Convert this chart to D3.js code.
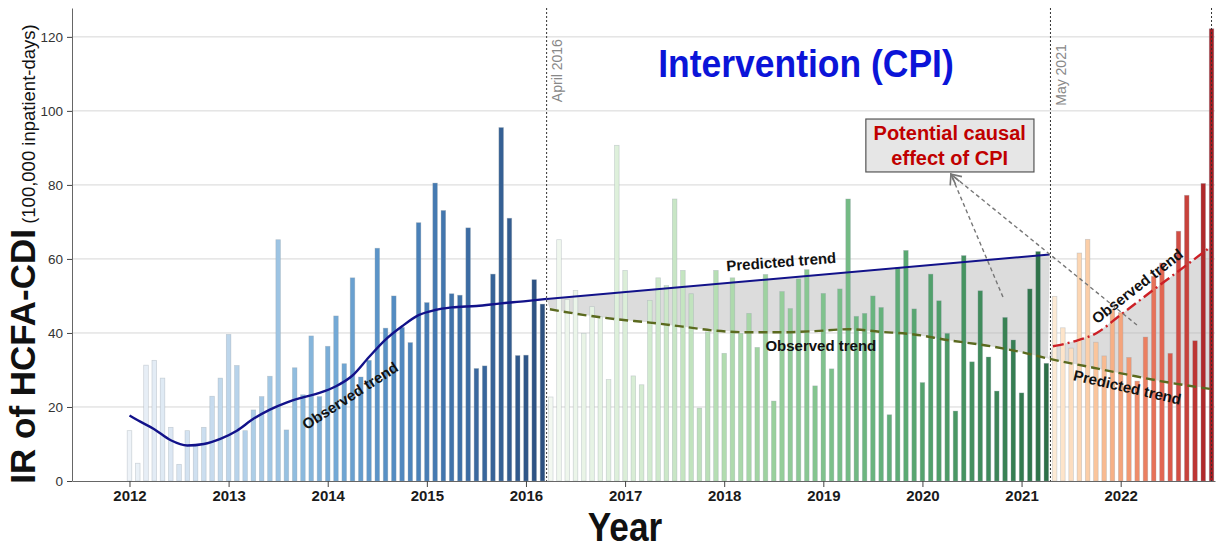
<!DOCTYPE html>
<html>
<head>
<meta charset="utf-8">
<script src="https://cdn.jsdelivr.net/npm/d3@7"></script>
<style>
  body { margin: 0; background: #fff; }
  svg { display: block; font-family: "Liberation Sans", Arial, sans-serif; }
</style>
</head>
<body>
<svg id="chart" width="1217" height="550"></svg>
<script>
// month index: 0 = Jan 2012, 131 = Dec 2022
const yearTicks = [2012, 2013, 2014, 2015, 2016, 2017, 2018, 2019, 2020, 2021, 2022];
const yTicks = [0, 20, 40, 60, 80, 100, 120];

// Jan 2012 - Mar 2016
const preBars = [13.6, 4.8, 31.3, 32.6, 27.8, 14.5, 4.5, 13.6, 9.8, 14.5, 22.9, 27.8,
  39.6, 31.2, 13.6, 19.2, 22.8, 28.3, 65.2, 13.8, 30.6, 23.3, 39.2, 22.8,
  36.4, 44.6, 31.7, 54.9, 28.1, 32.6, 62.9, 41.3, 50.0, 41.5, 37.4, 69.8,
  48.2, 80.5, 73.1, 50.6, 50.2, 68.4, 30.4, 31.1, 55.9, 95.5, 71.0, 33.9,
  34.0, 54.4, 47.8];
// Apr 2016 - Apr 2021 (CPI)
const cpiBars = [22.7, 65.2, 49.0, 51.5, 39.9, 47.1, 44.4, 27.4, 90.7,
  56.9, 28.4, 26.0, 48.8, 54.9, 52.8, 76.2, 56.9, 50.6, 19.7, 40.3, 56.9,
  34.5, 54.9, 39.9, 45.3, 36.1, 55.8, 21.6, 51.2, 46.6, 54.6, 57.1, 25.7,
  50.7, 30.3, 51.9, 76.2, 44.5, 45.3, 50.0, 46.9, 17.9, 57.6, 62.3, 46.5,
  26.6, 55.9, 48.7, 39.9, 18.9, 60.9, 32.2, 51.4, 33.5, 24.3, 44.2, 38.1,
  23.8, 51.9, 62.0, 31.8];
// May 2021 - Dec 2022
const postBars = [49.9, 41.4, 35.9, 61.6, 65.3, 37.5, 33.8, 46.4,
  45.5, 33.4, 27.0, 38.9, 55.3, 58.9, 34.5, 67.5, 77.2, 37.9, 80.4, 122.2];

// trend lines [month index, value]
const preTrend = [[0, 17.7], [1, 16.4], [3, 14.0], [5, 11.0], [7, 9.6], [9, 10.0], [11, 11.4],
  [13, 13.6], [15, 16.8], [17, 19.3], [19, 21.2], [21, 22.6], [23, 23.8], [25, 25.6],
  [27, 28.5], [29, 33.5], [31, 38.2], [33, 41.8], [35, 44.8], [37, 46.2], [39, 46.9],
  [42, 47.3], [45, 48.0], [48, 48.6], [50.5, 49.2]];
const predictedTrend = [[50.5, 49.2], [111.4, 61.2]];
const cpiTrend = [[50.9, 46.4], [54.9, 44.9], [59, 43.7], [63, 42.8], [67, 41.7], [71, 40.6],
  [75, 40.2], [79, 40.2], [83, 40.5], [87, 41.0], [91, 40.3], [95, 39.6], [99, 38.1],
  [104.6, 36.3], [108.6, 34.5], [111.2, 33.1]];
const postPredicted = [[111.2, 33.1], [116.7, 30.6], [120.7, 28.8], [124.8, 27.0], [130.8, 24.9]];
const postTrend = [[111.8, 36.4], [114.5, 37.8], [117.1, 40.0], [120, 44.9], [124, 51.7],
  [128, 58.4], [130.8, 63.1]];

const blueStops = ["#eef3f8", "#cadcee", "#92c0e1", "#5592c9", "#3d6fa8", "#2c5080"];
const greenStops = ["#f3f8f1", "#d5ecd1", "#a7d7a4", "#72bc85", "#4a9c67", "#2c6f47"];
const redStops = ["#fdebd6", "#fcd2aa", "#f6aa7e", "#ec7a5d", "#d54a42", "#a31d23"];

const svg = d3.select("#chart");
const margin = {top: 8, right: 2, bottom: 69, left: 72};
const W = 1217, H = 550;

const x = d3.scaleLinear().domain([-6.96, 131.42]).range([margin.left, W - margin.right]);
const y = d3.scaleLinear().domain([0, 127.8]).range([H - margin.bottom, margin.top]);

// gridlines
svg.append("g")
  .selectAll("line")
  .data(yTicks.filter(d => d > 0))
  .join("line")
  .attr("x1", margin.left).attr("x2", W - margin.right)
  .attr("y1", d => y(d)).attr("y2", d => y(d))
  .attr("stroke", "#d6d6d6").attr("stroke-width", 1);

// gray effect areas
const line = d3.line().x(d => x(d[0])).y(d => y(d[1]));
svg.append("path")
  .attr("d", line(predictedTrend.concat(cpiTrend.slice().reverse())) + "Z")
  .attr("fill", "#b5b5b5").attr("fill-opacity", 0.48);
svg.append("path")
  .attr("d", line(postTrend.concat(postPredicted.slice().reverse())) + "Z")
  .attr("fill", "#b5b5b5").attr("fill-opacity", 0.48);

// bars
const bars = [];
function addGroup(values, start, stops) {
  const interp = d3.interpolateRgbBasis(stops);
  values.forEach((v, k) => bars.push({i: start + k, v, color: interp(k / (values.length - 1))}));
}
addGroup(preBars, 0, blueStops);
addGroup(cpiBars, preBars.length, greenStops);
addGroup(postBars, preBars.length + cpiBars.length, redStops);

const bw = 4.6;
svg.append("g")
  .selectAll("rect")
  .data(bars)
  .join("rect")
  .attr("x", d => x(d.i) - bw / 2)
  .attr("y", d => y(d.v))
  .attr("width", bw)
  .attr("height", d => y(0) - y(d.v))
  .attr("fill", d => d.color)
  .attr("stroke", "#9aa3ad")
  .attr("stroke-opacity", 0.45)
  .attr("stroke-width", 0.7);

// phase boundaries
const boundaries = [50.5, 111.5, 131];
svg.append("g")
  .selectAll("line")
  .data(boundaries)
  .join("line")
  .attr("x1", d => x(d)).attr("x2", d => x(d))
  .attr("y1", margin.top).attr("y2", y(0))
  .attr("stroke", "#333").attr("stroke-width", 1)
  .attr("stroke-dasharray", "2,2");

// axes
const xAxis = svg.append("g")
  .attr("transform", `translate(0,${y(0)})`)
  .call(d3.axisBottom(x)
    .tickValues(yearTicks.map(t => (t - 2012) * 12))
    .tickFormat(i => 2012 + i / 12)
    .tickSize(6).tickSizeOuter(0).tickPadding(3));
xAxis.select(".domain").attr("stroke", "#666");
xAxis.selectAll(".tick line").attr("stroke", "#444");
xAxis.selectAll("text")
  .attr("font-size", 15).attr("font-weight", "bold").attr("fill", "#1a1a1a")
  .attr("font-family", "'Liberation Sans', Arial, sans-serif");

const yAxis = svg.append("g")
  .attr("transform", `translate(${margin.left},0)`)
  .call(d3.axisLeft(y).tickValues(yTicks).tickSize(5).tickSizeOuter(0).tickPadding(4));
yAxis.select(".domain").attr("stroke", "#666");
yAxis.selectAll(".tick line").attr("stroke", "#444");
yAxis.selectAll("text")
  .attr("font-size", 13.5).attr("fill", "#333")
  .attr("font-family", "'Liberation Sans', Arial, sans-serif");

// trend lines
svg.append("path")
  .attr("d", line.curve(d3.curveMonotoneX)(preTrend))
  .attr("fill", "none").attr("stroke", "#12128a").attr("stroke-width", 2.4);
svg.append("path")
  .attr("d", d3.line().x(d => x(d[0])).y(d => y(d[1]))(predictedTrend))
  .attr("fill", "none").attr("stroke", "#12128a").attr("stroke-width", 2);
svg.append("path")
  .attr("d", d3.line().x(d => x(d[0])).y(d => y(d[1])).curve(d3.curveMonotoneX)(cpiTrend.concat(postPredicted.slice(1))))
  .attr("fill", "none").attr("stroke", "#5b6a1f").attr("stroke-width", 2.4)
  .attr("stroke-dasharray", "9,5");
svg.append("path")
  .attr("d", d3.line().x(d => x(d[0])).y(d => y(d[1])).curve(d3.curveMonotoneX)(postTrend))
  .attr("fill", "none").attr("stroke", "#cc2026").attr("stroke-width", 2.4)
  .attr("stroke-dasharray", "11,4,2,4");

// trend labels
const labels = [
  {t: "Predicted trend", i: 78.9, v: 59.3, a: -4.5},
  {t: "Observed trend", i: 83.7, v: 36.7, a: 0},
  {t: "Observed trend", i: 26.7, v: 23.1, a: -33},
  {t: "Observed trend", i: 122.0, v: 52.7, a: -38},
  {t: "Predicted trend", i: 120.8, v: 25.4, a: 13}
];
svg.append("g")
  .selectAll("text")
  .data(labels)
  .join("text")
  .attr("transform", d => `translate(${x(d.i)},${y(d.v)}) rotate(${d.a})`)
  .attr("text-anchor", "middle").attr("dominant-baseline", "central")
  .attr("font-size", 15).attr("font-weight", "bold").attr("fill", "#111")
  .text(d => d.t);

// phase labels
svg.append("text")
  .attr("transform", `translate(${x(52.4)},${y(119.4)}) rotate(-90)`)
  .attr("text-anchor", "end").attr("font-size", 14).attr("fill", "#888")
  .text("April 2016");
svg.append("text")
  .attr("transform", `translate(${x(113.4)},${y(118.0)}) rotate(-90)`)
  .attr("text-anchor", "end").attr("font-size", 14).attr("fill", "#888")
  .text("May 2021");

svg.append("text")
  .attr("transform", `translate(${x(81.9)},${y(109.2)}) scale(0.91,1)`)
  .attr("text-anchor", "middle").attr("font-size", 39).attr("font-weight", "bold")
  .attr("fill", "#0b14d8")
  .text("Intervention (CPI)");

// annotation box
const box = {i0: 89.15, i1: 109.5, v0: 97.8, v1: 83.5};
svg.append("rect")
  .attr("x", x(box.i0)).attr("y", y(box.v0))
  .attr("width", x(box.i1) - x(box.i0)).attr("height", y(box.v1) - y(box.v0))
  .attr("fill", "#e6e6e6").attr("stroke", "#555").attr("stroke-width", 1.2);
svg.append("text")
  .attr("x", x(99.3)).attr("y", y(94.0))
  .attr("text-anchor", "middle").attr("dominant-baseline", "central")
  .attr("font-size", 20).attr("font-weight", "bold").attr("fill", "#c00000")
  .text("Potential causal");
svg.append("text")
  .attr("x", x(99.3)).attr("y", y(87.3))
  .attr("text-anchor", "middle").attr("dominant-baseline", "central")
  .attr("font-size", 20).attr("font-weight", "bold").attr("fill", "#c00000")
  .text("effect of CPI");

// arrows
svg.append("defs").append("marker")
  .attr("id", "arrowhead").attr("viewBox", "0 0 10 10")
  .attr("refX", 9).attr("refY", 5)
  .attr("markerWidth", 9).attr("markerHeight", 9)
  .attr("orient", "auto")
  .append("path").attr("d", "M1,1 L9,5 L1,9")
  .attr("fill", "none").attr("stroke", "#777").attr("stroke-width", 1.3);
const arrowTip = [99.45, 82.9];
const arrowTails = [[105.75, 49.7], [121.97, 42.15]];
svg.append("g")
  .selectAll("line")
  .data(arrowTails)
  .join("line")
  .attr("x1", d => x(d[0])).attr("y1", d => y(d[1]))
  .attr("x2", x(arrowTip[0])).attr("y2", y(arrowTip[1]))
  .attr("stroke", "#777").attr("stroke-width", 1.4)
  .attr("stroke-dasharray", "4,3")
  .attr("marker-end", "url(#arrowhead)");

// axis titles
const yTitle = svg.append("text")
  .attr("transform", `translate(35,254) rotate(-90)`)
  .attr("text-anchor", "middle").attr("fill", "#111");
yTitle.append("tspan").attr("font-size", 35).attr("font-weight", "bold").text("IR of HCFA-CDI");
yTitle.append("tspan").attr("font-size", 18.5).text(" (100,000 inpatient-days)");

svg.append("text")
  .attr("transform", `translate(625,541) scale(0.88,1)`)
  .attr("text-anchor", "middle").attr("font-size", 40).attr("font-weight", "bold")
  .attr("fill", "#111")
  .text("Year");
</script>
</body>
</html>
